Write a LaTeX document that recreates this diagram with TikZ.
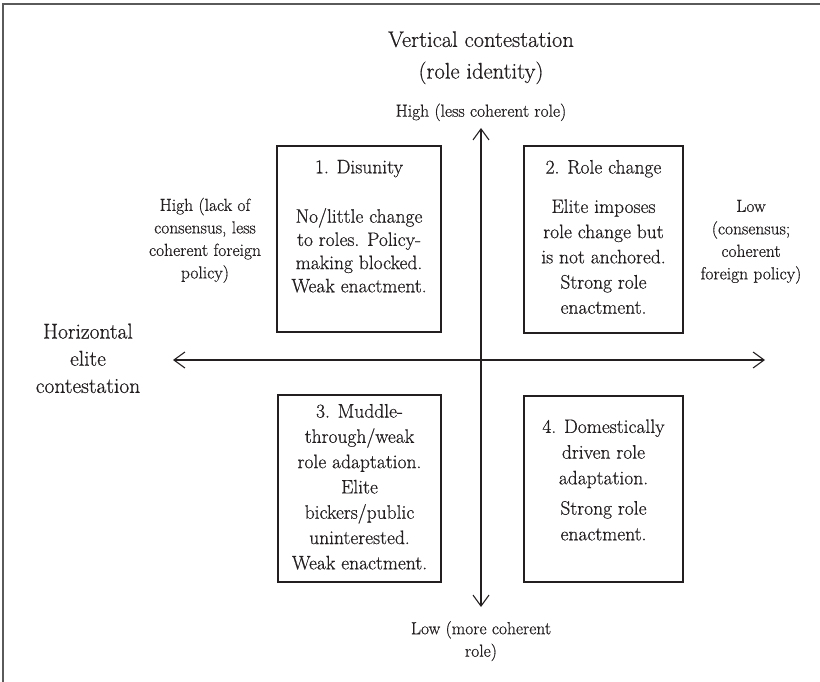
\documentclass[tikz,border=0pt]{standalone}
\usepackage{fontspec}
\setmainfont{Latin Modern Roman}[FakeBold=0.6]
\usetikzlibrary{arrows.meta}
\definecolor{ink}{RGB}{35,31,32}
\definecolor{framegray}{RGB}{90,90,90}
\tikzset{
  boxframe/.style={draw=ink, line width=2pt, inner sep=0pt},
  boxtext/.style={anchor=north, align=center, inner sep=0pt, text=ink, font=\fontsize{19.5}{25.3}\selectfont},
  sidelabel/.style={anchor=north, align=center, inner sep=0pt, text=ink, font=\fontsize{17.5}{22.5}\selectfont},
  biglabel/.style={anchor=north, align=center, inner sep=0pt, text=ink},
  axisline/.style={draw=ink, line width=1.1pt, {Straight Barb[length=11pt,width=16pt]}-{Straight Barb[length=11pt,width=16pt]}},
  framestyle/.style={draw=framegray, line width=1.2pt},
}
\begin{document}
\begin{tikzpicture}[x=1pt,y=-1pt]
\useasboundingbox (0,0) rectangle (820,682);
% outer frame (top and left edges)
\draw[framestyle] (3,682) -- (3,4) -- (820,4);

% quadrant boxes
\node[boxframe, minimum width=164pt, minimum height=186pt] (b1) at (359,239) {};
\node[boxframe, minimum width=159pt, minimum height=187pt] (b2) at (603.5,239.5) {};
\node[boxframe, minimum width=163pt, minimum height=187pt] (b3) at (359.5,488.5) {};
\node[boxframe, minimum width=159pt, minimum height=186pt] (b4) at (603.5,489) {};

% box texts
\node[boxtext, font=\fontsize{19.5}{23.2}\selectfont] (t1) at (359,159.8)
  {1. Disunity\\[26.2pt]No/little change\\to roles. Policy-\\making blocked.\\Weak enactment.};
\node[boxtext, font=\fontsize{19.5}{25.2}\selectfont] (t2) at (603.5,159.8)
  {2. Role change\\[14.2pt]Elite imposes\\role change but\\is not anchored.\\Strong role\\enactment.};
\node[boxtext] (t3) at (359.5,403.8)
  {3. Muddle-\\through/weak\\role adaptation.\\Elite\\bickers/public\\uninterested.\\Weak enactment.};
\node[boxtext, font=\fontsize{19.5}{25.7}\selectfont] (t4) at (603.5,419.2)
  {4. Domestically\\driven role\\adaptation.\\[4.6pt]Strong role\\enactment.};

% axes
\coordinate (hl) at (173,360);
\coordinate (hr) at (765,360);
\coordinate (vt) at (481,128);
\coordinate (vb) at (481,607);
\draw[axisline] (hl) -- (hr);
\draw[axisline] (vt) -- (vb);

% axis labels
\node[biglabel, font=\fontsize{22.5}{31.6}\selectfont] (vtitle) at (481,31.1)
  {Vertical contestation\\(role identity)};
\node[sidelabel, anchor=base] (vhigh) at (481,116.7) {High (less coherent role)};
\node[sidelabel] (vlow) at (481,620.9) {Low (more coherent\\role)};
\node[biglabel, font=\fontsize{21.5}{27.2}\selectfont] (htitle) at (88,323.4)
  {Horizontal\\elite\\contestation};
\node[sidelabel] (hhigh) at (205,197.6)
  {High (lack of\\consensus, less\\coherent foreign\\policy)};
\node[sidelabel] (hlow) at (751,199.7)
  {Low\\(consensus;\\coherent\\foreign policy)};
\end{tikzpicture}
\end{document}
